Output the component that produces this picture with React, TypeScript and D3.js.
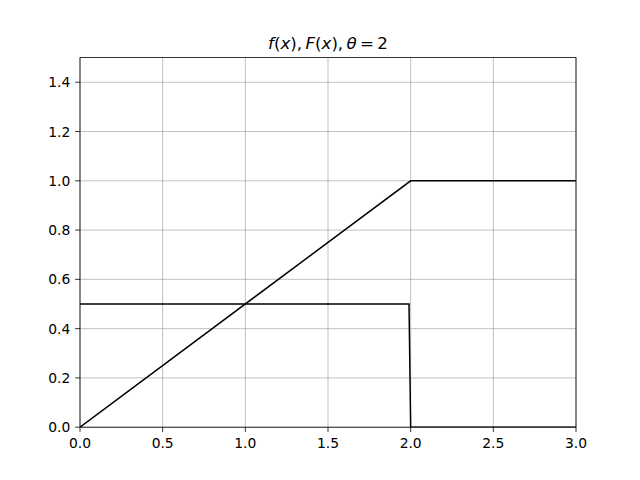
import React from "react";
import * as d3 from "d3";

const pdfX = [0, 1.99, 2.0, 3.0];
const pdfY = [0.5, 0.5, 0, 0];
const cdfX = [0, 2.0, 3.0];
const cdfY = [0, 1, 1];
const xTicks = [0, 0.5, 1.0, 1.5, 2.0, 2.5, 3.0];
const yTicks = [0, 0.2, 0.4, 0.6, 0.8, 1.0, 1.2, 1.4];

export default function App() {
  const W = 640, H = 480;
  const L = 80, R = 576, T = 57.6, B = 427.2;
  const x = d3.scaleLinear().domain([0, 3]).range([L, R]);
  const y = d3.scaleLinear().domain([0, 1.5]).range([B, T]);
  const line = d3.line<[number, number]>().x(d => x(d[0])).y(d => y(d[1]));
  const pdf = pdfX.map((v, i) => [v, pdfY[i]] as [number, number]);
  const cdf = cdfX.map((v, i) => [v, cdfY[i]] as [number, number]);
  const font = "DejaVu Sans";
  const fs = 13.89;
  return (
    <svg width={W} height={H} style={{ position: "absolute", left: 0, top: 0 }} fontFamily={font}>
      <rect x={0} y={0} width={W} height={H} fill="white" />
      <g>
        {xTicks.map(t => (
          <line key={"gx" + t} x1={x(t)} x2={x(t)} y1={T} y2={B} stroke="#b0b0b0" strokeWidth={0.8} />
        ))}
        {yTicks.map(t => (
          <line key={"gy" + t} x1={L} x2={R} y1={y(t)} y2={y(t)} stroke="#b0b0b0" strokeWidth={0.8} />
        ))}
      </g>
      <defs>
        <clipPath id="clip">
          <rect x={L} y={T} width={R - L} height={B - T} />
        </clipPath>
      </defs>
      <g clipPath="url(#clip)">
        <path d={line(pdf) || ""} fill="none" stroke="black" strokeWidth={1.5} />
        <path d={line(cdf) || ""} fill="none" stroke="black" strokeWidth={1.5} />
      </g>
      <rect x={L} y={T} width={R - L} height={B - T} fill="none" stroke="black" strokeWidth={0.8} />
      {xTicks.map(t => (
        <g key={"tx" + t}>
          <line x1={x(t)} x2={x(t)} y1={B} y2={B + 4.86} stroke="black" strokeWidth={0.8} />
          <text x={x(t)} y={B + 9.72 + 10.6} fontSize={fs} textAnchor="middle">{t.toFixed(1)}</text>
        </g>
      ))}
      {yTicks.map(t => (
        <g key={"ty" + t}>
          <line x1={L - 4.86} x2={L} y1={y(t)} y2={y(t)} stroke="black" strokeWidth={0.8} />
          <text x={L - 9.72} y={y(t)} dy="0.36em" fontSize={fs} textAnchor="end">{t.toFixed(1)}</text>
        </g>
      ))}
      <text x={(L + R) / 2} y={T - 8.33 - 0.5} fontSize={16.67} textAnchor="middle">
        <tspan fontStyle="italic">f</tspan>
        <tspan>(</tspan>
        <tspan fontStyle="italic">x</tspan>
        <tspan>),{"\u2009"}</tspan>
        <tspan fontStyle="italic">F</tspan>
        <tspan>(</tspan>
        <tspan fontStyle="italic">x</tspan>
        <tspan>),{"\u2009"}</tspan>
        <tspan fontStyle="italic">θ</tspan>
        <tspan>{"\u2009"}={"\u2009"}2</tspan>
      </text>
    </svg>
  );
}
